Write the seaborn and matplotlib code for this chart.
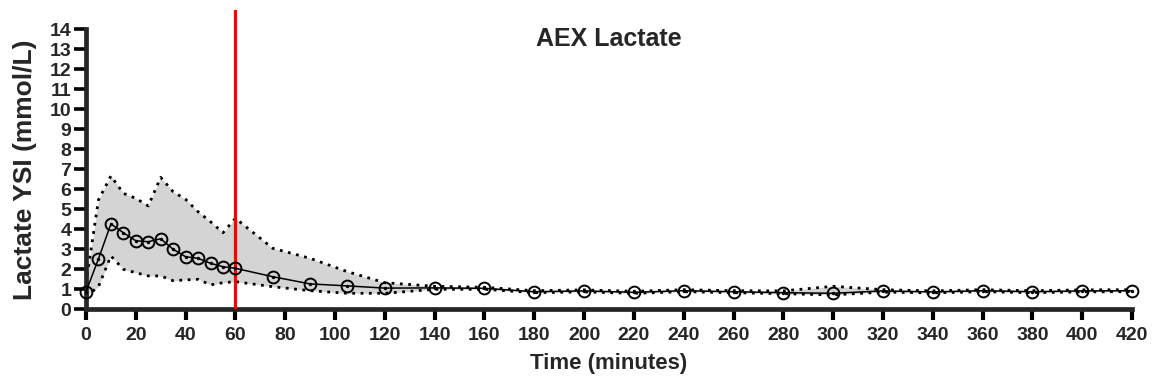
import matplotlib
matplotlib.use("Agg")
import matplotlib.pyplot as plt
import seaborn as sns
import pandas as pd

time = [0, 5, 10, 15, 20, 25, 30, 35, 40, 45, 50, 55, 60, 75, 90, 105, 120,
        140, 160, 180, 200, 220, 240, 260, 280, 300, 320, 340, 360, 380, 400, 420]
mean = [0.88, 2.52, 4.27, 3.83, 3.43, 3.38, 3.53, 3.00, 2.63, 2.55, 2.30, 2.13, 2.05,
        1.63, 1.27, 1.17, 1.06, 1.07, 1.05, 0.88, 0.92, 0.85, 0.93, 0.88, 0.83, 0.80,
        0.92, 0.87, 0.93, 0.88, 0.92, 0.93]
upper = [1.30, 5.47, 6.67, 5.80, 5.55, 5.17, 6.60, 5.88, 5.50, 4.88, 4.38, 3.83, 4.55,
         3.05, 2.55, 1.88, 1.33, 1.15, 1.10, 0.93, 0.97, 0.90, 0.98, 0.93, 0.92, 1.15,
         0.98, 0.92, 0.98, 0.93, 0.97, 0.98]
lower = [0.65, 1.13, 2.67, 2.00, 1.83, 1.67, 1.67, 1.43, 1.47, 1.50, 1.22, 1.33, 1.38,
         1.13, 0.93, 0.80, 0.80, 1.00, 1.00, 0.83, 0.87, 0.80, 0.88, 0.83, 0.78, 0.72,
         0.86, 0.82, 0.88, 0.83, 0.87, 0.88]
x_ticks = list(range(0, 421, 20))
y_ticks = list(range(0, 15))
marker_time = 60

df = pd.DataFrame({"time": time, "mean": mean, "upper": upper, "lower": lower})

sns.set_style("ticks")
plt.rcParams["font.family"] = ["Liberation Sans", "DejaVu Sans"]
plt.rcParams["font.weight"] = "bold"

fig = plt.figure(figsize=(11.59, 3.89), dpi=100)
ax = fig.add_axes([0.0742, 0.2049, 0.9025, 0.7694])

ax.fill_between(df["time"], df["lower"], df["upper"], color="#d4d4d4", lw=0, zorder=1)
for col in ("upper", "lower"):
    sns.lineplot(data=df, x="time", y=col, ax=ax, color="black", lw=2.0,
                 linestyle=(0, (1.0, 2.0)), dash_capstyle="butt", zorder=2)

ax.axvline(marker_time, ymin=0, ymax=1, color="#ff0000", lw=2.3, zorder=3)

sns.lineplot(data=df, x="time", y="mean", ax=ax, color="black", lw=1.1,
             marker="o", markersize=8.5, markerfacecolor="none",
             markeredgecolor="black", markeredgewidth=1.4, zorder=4, clip_on=False)
sns.scatterplot(data=df, x="time", y="mean", ax=ax, color="black", s=6,
                linewidth=0, zorder=5, clip_on=False)

ax.set_xlim(0, 420)
ax.set_ylim(0, 14.97)
ax.set_xticks(x_ticks)
ax.set_yticks(y_ticks)
ax.set_xticklabels([str(t) for t in x_ticks], fontsize=14, fontweight="bold")
ax.set_yticklabels([str(t) for t in y_ticks], fontsize=14, fontweight="bold")
ax.spines["left"].set_bounds(0, 14)
for s in ("top", "right"):
    ax.spines[s].set_visible(False)
for s in ("left", "bottom"):
    ax.spines[s].set_linewidth(3.4)
ax.tick_params(axis="x", length=8, width=3.0, pad=5, color="black")
ax.tick_params(axis="y", length=8.5, width=2.6, pad=2, color="black")

ax.set_xlabel("Time (minutes)", fontsize=16, fontweight="bold", labelpad=6)
ax.set_ylabel("Lactate YSI (mmol/L)", fontsize=19, fontweight="bold")
ax.yaxis.set_label_coords(-0.047, 14 / 14.97 / 2)
ax.text(0.5, (309.3 - 38.5) / 20 / 14.97, "AEX Lactate", transform=ax.transAxes,
        ha="center", va="center", fontsize=18, fontweight="bold")

fig.savefig("out.png", dpi=100)
